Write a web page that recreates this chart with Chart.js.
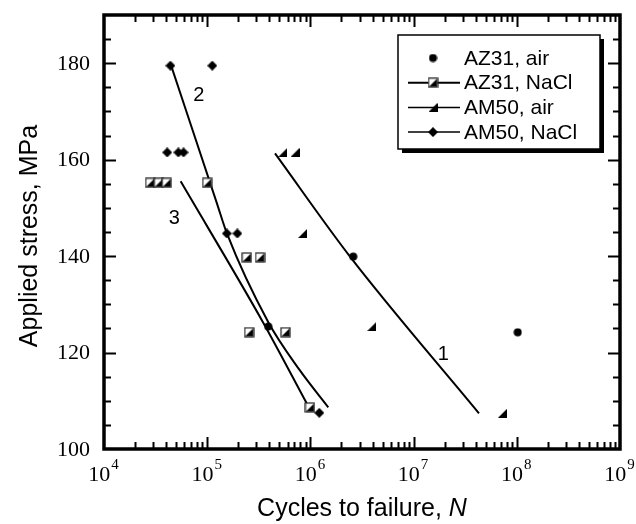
<!DOCTYPE html>
<html>
<head>
<meta charset="utf-8">
<script src="https://cdn.jsdelivr.net/npm/chart.js@4.4.1/dist/chart.umd.min.js"></script>
<style>
  html, body { margin: 0; padding: 0; background: #fff; }
</style>
</head>
<body>
<canvas id="snChart" width="636" height="524"></canvas>
<script>
// cycles to failure N and applied stress (MPa)
const az31AirN = [3.9e5, 2.6e6, 1.02e8];
const az31AirS = [125.4, 139.9, 124.2];
const az31NaclN = [2.8e4, 3.4e4, 4.05e4, 1.0e5, 2.42e5, 3.25e5, 2.55e5, 5.75e5, 9.9e5];
const az31NaclS = [155.2, 155.2, 155.2, 155.2, 139.7, 139.7, 124.2, 124.2, 108.6];
const am50AirN = [5.4e5, 7.1e5, 8.4e5, 3.93e6, 7.25e7];
const am50AirS = [161.5, 161.5, 144.7, 125.4, 107.4];
const am50NaclN = [4.4e4, 1.12e5, 4.1e4, 5.25e4, 5.9e4, 1.55e5, 1.96e5, 1.22e6];
const am50NaclS = [179.5, 179.5, 161.5, 161.5, 161.5, 144.7, 144.7, 107.5];

// fitted curves 1, 2, 3
const fit1N = [4.54e5, 2.42e6, 4.3e7];
const fit1S = [161.3, 139.9, 107.4];
const fit2N = [4.44e4, 1.24e5, 1.55e5, 3.91e5, 7.85e5, 1.49e6];
const fit2S = [179.7, 151.0, 144.75, 126.3, 116.4, 108.65];
const fit3N = [5.53e4, 3.47e5, 9.2e5];
const fit3S = [155.5, 126.3, 109.5];

// curve numbers and where they sit
const curveNames = ["1", "2", "3"];
const curveLabelN = [1.94e7, 8.3e4, 4.8e4];
const curveLabelS = [119.5, 173.4, 147.7];

// axes
const xTickExps = [4, 5, 6, 7, 8, 9];
const yTicks = [100, 120, 140, 160, 180];
const legendNames = ["AZ31, air", "AZ31, NaCl", "AM50, air", "AM50, NaCl"];

const pts = (xs, ys) => xs.map((v, i) => ({ x: v, y: ys[i] }));

// marker images
function circleMark() {
  const c = document.createElement("canvas");
  c.width = 9; c.height = 9;
  const g = c.getContext("2d");
  g.fillStyle = "#000";
  g.beginPath(); g.arc(4.5, 4.5, 4, 0, Math.PI * 2); g.fill();
  return c;
}
function halfSquareMark() {
  const c = document.createElement("canvas");
  c.width = 11; c.height = 11;
  const g = c.getContext("2d");
  g.fillStyle = "#fff"; g.fillRect(1, 1, 9, 9);
  g.fillStyle = "#000";
  g.beginPath(); g.moveTo(1.5, 9.5); g.lineTo(9.5, 1.5); g.lineTo(9.5, 9.5); g.closePath(); g.fill();
  g.strokeStyle = "#222"; g.lineWidth = 1.2; g.strokeRect(1, 1, 9, 9);
  return c;
}
function triangleMark() {
  const c = document.createElement("canvas");
  c.width = 9; c.height = 9;
  const g = c.getContext("2d");
  g.fillStyle = "#000";
  g.beginPath(); g.moveTo(0, 9); g.lineTo(9, 0); g.lineTo(9, 9); g.closePath(); g.fill();
  return c;
}
function diamondMark() {
  const c = document.createElement("canvas");
  c.width = 10; c.height = 10;
  const g = c.getContext("2d");
  g.fillStyle = "#000";
  g.beginPath(); g.moveTo(5, 0); g.lineTo(10, 5); g.lineTo(5, 10); g.lineTo(0, 5); g.closePath(); g.fill();
  return c;
}
const markers = [circleMark(), halfSquareMark(), triangleMark(), diamondMark()];

const serif = '"Liberation Serif", "Times New Roman", serif';
const sans = '"Liberation Sans", Arial, sans-serif';

// frame, inward ticks, tick labels, titles, curve numbers, legend
const decorations = {
  id: "decorations",
  afterDraw(chart) {
    const { ctx, chartArea: { left, right, top, bottom }, scales: { x, y } } = chart;
    ctx.save();
    ctx.strokeStyle = "#000";
    ctx.fillStyle = "#000";

    // y ticks every 5 MPa on both sides
    ctx.lineWidth = 2;
    for (let v = 105; v < 190; v += 5) {
      const py = Math.round(y.getPixelForValue(v)) + 0.5;
      const len = v % 20 === 0 ? 12 : 7;
      ctx.beginPath();
      ctx.moveTo(left, py); ctx.lineTo(left + len, py);
      ctx.moveTo(right, py); ctx.lineTo(right - len, py);
      ctx.stroke();
    }
    // x ticks, decades and 2..9 on bottom and top
    for (let e = 4; e < 9; e++) {
      for (let m = 1; m <= 9; m++) {
        if (e === 4 && m === 1) continue;
        const px = Math.round(x.getPixelForValue(m * Math.pow(10, e))) + 0.5;
        const len = m === 1 ? 12 : 7;
        ctx.beginPath();
        ctx.moveTo(px, bottom); ctx.lineTo(px, bottom - len);
        ctx.moveTo(px, top); ctx.lineTo(px, top + len);
        ctx.stroke();
      }
    }

    // frame
    ctx.lineWidth = 3.5;
    ctx.strokeRect(left, top, right - left, bottom - top);

    // y tick labels
    ctx.font = "22px " + serif;
    ctx.textAlign = "right";
    ctx.textBaseline = "middle";
    yTicks.forEach((v) => {
      ctx.fillText(String(v), left - 14, y.getPixelForValue(v) + 1);
    });

    // x tick labels 10^n
    ctx.textBaseline = "alphabetic";
    ctx.textAlign = "left";
    xTickExps.forEach((e) => {
      const px = x.getPixelForValue(Math.pow(10, e));
      ctx.font = "22px " + serif;
      const w1 = ctx.measureText("10").width;
      ctx.font = "15px " + serif;
      const w2 = ctx.measureText(String(e)).width;
      const x0 = px - (w1 + w2) / 2 - 1;
      ctx.font = "22px " + serif;
      ctx.fillText("10", x0, bottom + 32);
      ctx.font = "15px " + serif;
      ctx.fillText(String(e), x0 + w1 + 1, bottom + 20);
    });

    // axis titles
    const t1 = "Cycles to failure, ";
    ctx.font = "25px " + sans;
    const wA = ctx.measureText(t1).width;
    ctx.font = "italic 25px " + sans;
    const wN = ctx.measureText("N").width;
    const tx = (left + right) / 2 - (wA + wN) / 2;
    ctx.font = "25px " + sans;
    ctx.fillText(t1, tx, bottom + 67);
    ctx.font = "italic 25px " + sans;
    ctx.fillText("N", tx + wA, bottom + 67);

    ctx.save();
    ctx.translate(37, (top + bottom) / 2 + 4);
    ctx.rotate(-Math.PI / 2);
    ctx.textAlign = "center";
    ctx.font = "25px " + sans;
    ctx.fillText("Applied stress, MPa", 0, 0);
    ctx.restore();

    // curve numbers
    ctx.font = "20px " + sans;
    ctx.textAlign = "center";
    ctx.textBaseline = "middle";
    curveNames.forEach((n, i) => {
      ctx.fillText(n, x.getPixelForValue(curveLabelN[i]), y.getPixelForValue(curveLabelS[i]));
    });

    // legend box with drop shadow
    const bx = 398, by = 35, bw = 202, bh = 114;
    ctx.fillRect(bx + 4, by + 4, bw, bh);
    ctx.fillStyle = "#fff";
    ctx.fillRect(bx, by, bw, bh);
    ctx.lineWidth = 1.5;
    ctx.strokeRect(bx, by, bw, bh);
    ctx.fillStyle = "#000";
    ctx.font = "21px " + sans;
    ctx.textAlign = "left";
    legendNames.forEach((name, i) => {
      const ly = by + 23 + i * 24.7;
      if (i > 0) {
        ctx.lineWidth = i === 1 ? 2 : 1.5;
        ctx.beginPath();
        ctx.moveTo(bx + 10, ly); ctx.lineTo(bx + 62, ly);
        ctx.stroke();
      }
      const mk = markers[i];
      ctx.drawImage(mk, bx + 35 - mk.width / 2, ly - mk.height / 2);
      ctx.fillText(name, bx + 66, ly + 1);
    });
    ctx.restore();
  },
};

const pointSet = (xs, ys, mk) => ({
  data: pts(xs, ys),
  showLine: false,
  pointStyle: mk,
  pointRadius: 5,
  pointHoverRadius: 5,
});
const fitSet = (xs, ys, w) => ({
  data: pts(xs, ys),
  showLine: true,
  borderColor: "#000",
  borderWidth: w,
  pointRadius: 0,
  cubicInterpolationMode: "monotone",
  fill: false,
});

new Chart(document.getElementById("snChart"), {
  type: "scatter",
  data: {
    datasets: [
      pointSet(az31AirN, az31AirS, markers[0]),
      pointSet(az31NaclN, az31NaclS, markers[1]),
      pointSet(am50AirN, am50AirS, markers[2]),
      pointSet(am50NaclN, am50NaclS, markers[3]),
      fitSet(fit1N, fit1S, 2),
      fitSet(fit2N, fit2S, 2),
      fitSet(fit3N, fit3S, 2),
    ],
  },
  plugins: [decorations],
  options: {
    responsive: false,
    animation: false,
    events: [],
    layout: { padding: { left: 104, right: 16, top: 15, bottom: 75 } },
    plugins: {
      legend: { display: false },
      tooltip: { enabled: false },
    },
    scales: {
      x: { type: "logarithmic", min: 1e4, max: 1e9, display: false },
      y: { type: "linear", min: 100, max: 190, display: false },
    },
  },
});
</script>
</body>
</html>
